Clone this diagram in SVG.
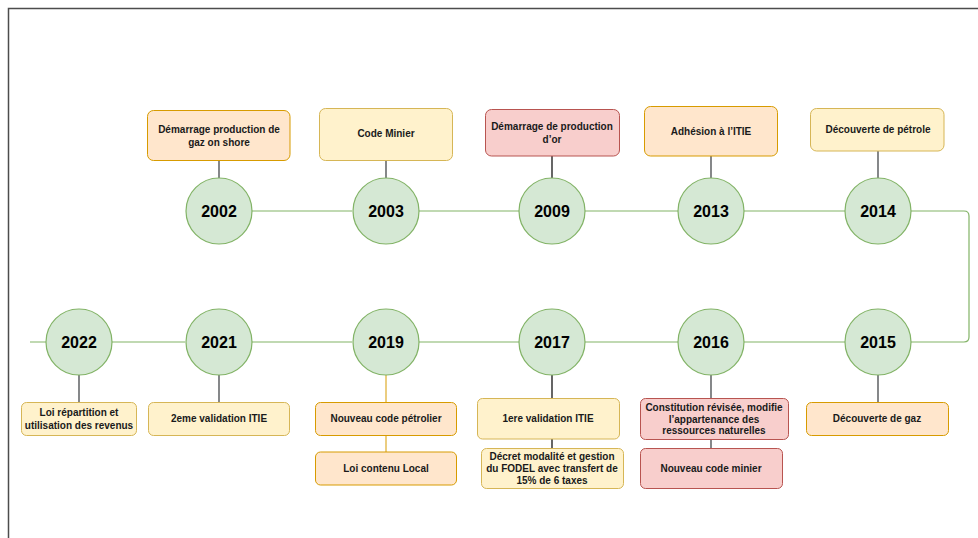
<svg xmlns="http://www.w3.org/2000/svg" width="978" height="538" viewBox="0 0 978 538">
<style>
.yr{fill:#d5e8d4;stroke:#82b366;stroke-width:1.2}
.yt{font-family:"Liberation Sans",Arial,sans-serif;font-weight:bold;font-size:16px;fill:#000;text-anchor:middle}
.bt{font-family:"Liberation Sans",Arial,sans-serif;font-weight:bold;font-size:10px;fill:#1a1a1a;text-anchor:middle}
.or{fill:#ffe6cc;stroke:#d79b00;stroke-width:1}
.ye{fill:#fff2cc;stroke:#d6b656;stroke-width:1}
.rd{fill:#f8cecc;stroke:#b85450;stroke-width:1}
.tl{fill:none;stroke:#82b366;stroke-width:1.2}
.lk{fill:none;stroke:#36393d;stroke-width:1.2}
.lb{fill:none;stroke:#000;stroke-width:1.2}
.lo{fill:none;stroke:#d79b00;stroke-width:1}
</style>
<rect x="0" y="0" width="978" height="538" fill="#fff"/>
<path d="M8.5,538 V8.5 H978" fill="none" stroke="#4d4d4d" stroke-width="1.5"/>
<g id="connectors">
<path class="tl" d="M251,211 H352 M418,211 H519 M585,211 H678 M744,211 H845"/>
<path class="tl" d="M911,211 H964 Q969,211 969,216 V337 Q969,342 964,342 H911"/>
<path class="tl" d="M845,342 H744 M678,342 H585 M519,342 H418 M352,342 H251 M185,342 H112 M46,342 H30"/>
<path class="lk" d="M219,161 V178 M386,161 V178 M711,156 V178 M878,151 V178"/>
<path class="lb" d="M552,156 V178"/>
<path class="lk" d="M79,375 V402 M219,375 V402 M711,375 V398 M711,439 V448 M878,375 V402"/>
<path class="lo" d="M386,375 V402 M386,435 V452"/>
<path class="lb" d="M552,375 V398 M552,439 V448"/>
</g>
<g id="n2002"><circle class="yr" cx="219" cy="211" r="33"/><text class="yt" x="219" y="217">2002</text></g>
<g id="n2003"><circle class="yr" cx="386" cy="211" r="33"/><text class="yt" x="386" y="217">2003</text></g>
<g id="n2009"><circle class="yr" cx="552" cy="211" r="33"/><text class="yt" x="552" y="217">2009</text></g>
<g id="n2013"><circle class="yr" cx="711" cy="211" r="33"/><text class="yt" x="711" y="217">2013</text></g>
<g id="n2014"><circle class="yr" cx="878" cy="211" r="33"/><text class="yt" x="878" y="217">2014</text></g>
<g id="n2022"><circle class="yr" cx="79" cy="342" r="33"/><text class="yt" x="79" y="348">2022</text></g>
<g id="n2021"><circle class="yr" cx="219" cy="342" r="33"/><text class="yt" x="219" y="348">2021</text></g>
<g id="n2019"><circle class="yr" cx="386" cy="342" r="33"/><text class="yt" x="386" y="348">2019</text></g>
<g id="n2017"><circle class="yr" cx="552" cy="342" r="33"/><text class="yt" x="552" y="348">2017</text></g>
<g id="n2016"><circle class="yr" cx="711" cy="342" r="33"/><text class="yt" x="711" y="348">2016</text></g>
<g id="n2015"><circle class="yr" cx="878" cy="342" r="33"/><text class="yt" x="878" y="348">2015</text></g>
<g id="b2002"><rect class="or" x="147.5" y="110.5" width="142.5" height="50" rx="6"/><text class="bt" x="219" y="133">Démarrage production de</text><text class="bt" x="219" y="146">gaz on shore</text></g>
<g id="b2003"><rect class="ye" x="319.5" y="108.5" width="133" height="52" rx="6"/><text class="bt" x="386" y="137">Code Minier</text></g>
<g id="b2009"><rect class="rd" x="485.5" y="109.5" width="134" height="46.5" rx="6"/><text class="bt" x="552" y="130">Démarrage de production</text><text class="bt" x="552" y="143">d’or</text></g>
<g id="b2013"><rect class="or" x="644.5" y="106.5" width="133" height="49.5" rx="6"/><text class="bt" x="711" y="135">Adhésion à l’ITIE</text></g>
<g id="b2014"><rect class="ye" x="810.5" y="108.5" width="133.5" height="42.5" rx="6"/><text class="bt" x="878" y="133">Découverte de pétrole</text></g>
<g id="b2022"><rect class="ye" x="21.5" y="402.5" width="115" height="33" rx="5"/><text class="bt" x="79" y="416">Loi répartition et</text><text class="bt" x="79" y="429">utilisation des revenus</text></g>
<g id="b2021"><rect class="ye" x="148.5" y="402.5" width="141" height="33" rx="5"/><text class="bt" x="219" y="422">2eme validation ITIE</text></g>
<g id="b2019a"><rect class="or" x="315.5" y="402.5" width="141" height="33" rx="5"/><text class="bt" x="386" y="422">Nouveau code pétrolier</text></g>
<g id="b2019b"><rect class="or" x="315.5" y="452" width="141" height="33" rx="5"/><text class="bt" x="386" y="472">Loi contenu Local</text></g>
<g id="b2017a"><rect class="ye" x="477.5" y="398.5" width="142" height="40.5" rx="5"/><text class="bt" x="548" y="422">1ere validation ITIE</text></g>
<g id="b2017b"><rect class="ye" x="481.5" y="448.5" width="142" height="40" rx="5"/><text class="bt" x="552" y="460">Décret modalité et gestion</text><text class="bt" x="552" y="472">du FODEL avec transfert de</text><text class="bt" x="552" y="484">15% de 6 taxes</text></g>
<g id="b2016a"><rect class="rd" x="640.5" y="398.5" width="148" height="41" rx="5"/><text class="bt" x="714" y="411">Constitution révisée, modifie</text><text class="bt" x="714" y="422.5">l’appartenance des</text><text class="bt" x="714" y="434">ressources naturelles</text></g>
<g id="b2016b"><rect class="rd" x="640.5" y="448.5" width="142" height="40" rx="5"/><text class="bt" x="711" y="472">Nouveau code minier</text></g>
<g id="b2015"><rect class="or" x="806.5" y="402.5" width="142" height="33" rx="5"/><text class="bt" x="877" y="422">Découverte de gaz</text></g>
</svg>
